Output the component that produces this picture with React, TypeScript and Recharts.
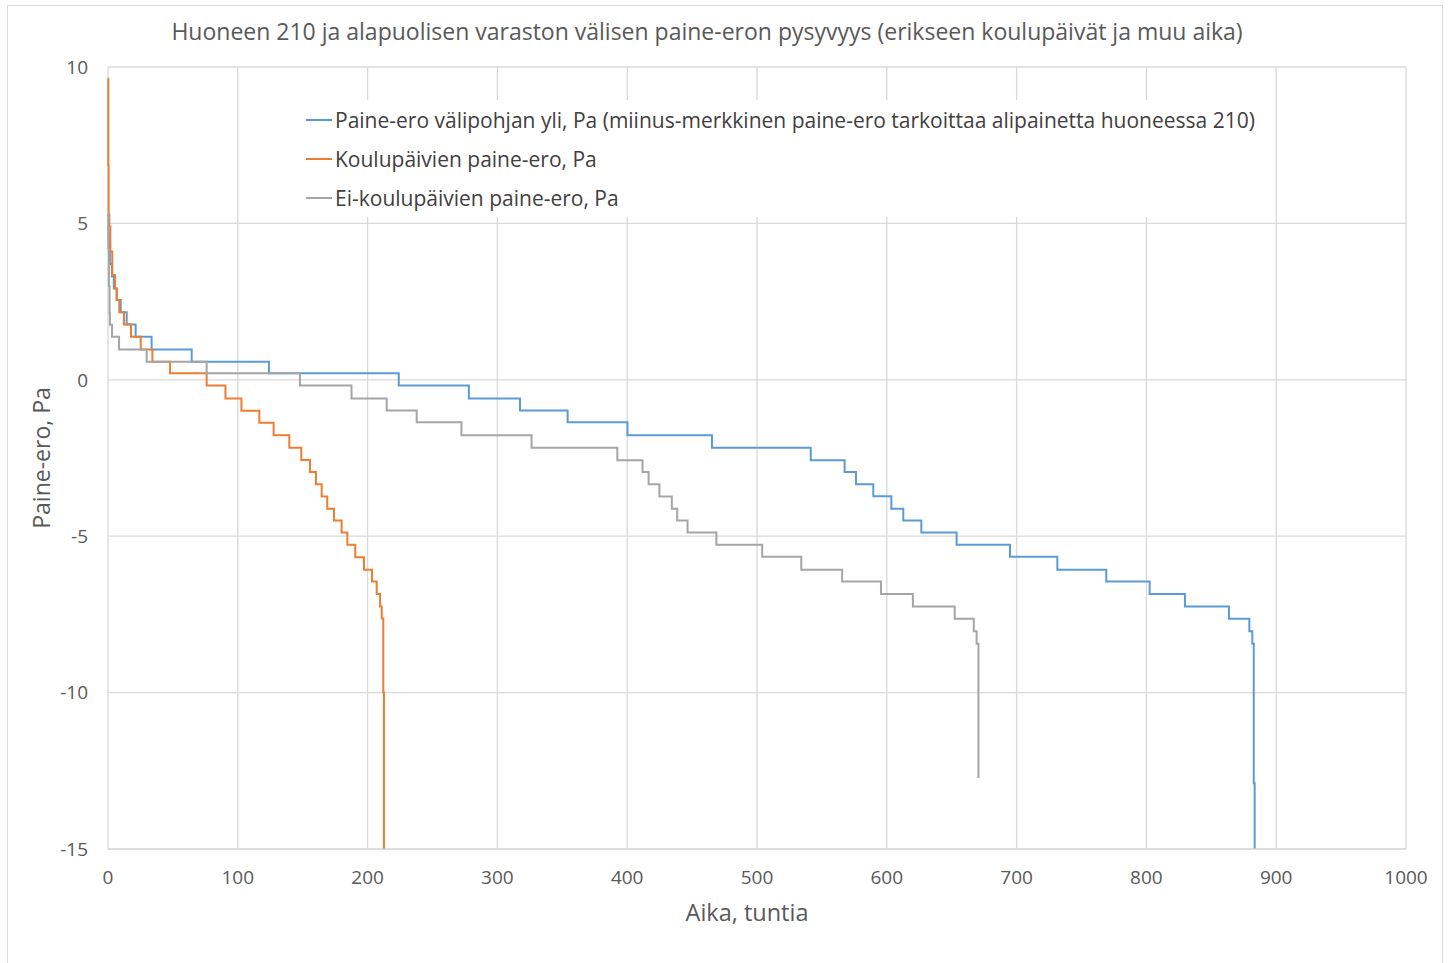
import { LineChart, Line, XAxis, YAxis, CartesianGrid } from 'recharts';

// Duration curves: each entry = hour where a pressure level starts, and the level (Pa)
const BLUE_HOURS = [0, 0.5, 1.5, 3, 4.5, 6.7, 9.8, 14.4, 21.3, 33.6, 64.5, 124, 224, 278, 317.4, 354.1, 400.2, 465.3, 541.4, 567.5, 576.3, 589.6, 603.5, 612.7, 626.6, 653.8, 694.9, 731.4, 769.1, 802.5, 829.7, 863.6, 879.3, 881.6, 882.7, 883.4];
const BLUE_PA = [5.3, 4.5, 3.7, 3.3, 2.92, 2.55, 2.16, 1.77, 1.38, 0.97, 0.58, 0.21, -0.18, -0.6, -0.98, -1.36, -1.77, -2.17, -2.57, -2.95, -3.34, -3.72, -4.12, -4.5, -4.88, -5.27, -5.66, -6.07, -6.45, -6.85, -7.25, -7.64, -8.04, -8.44, -12.9, -15];

const ORANGE_HOURS = [0, 0.2, 0.5, 1.0, 1.8, 3.3, 5.4, 6.7, 8.7, 12.3, 17.7, 25.2, 34.2, 47.8, 76, 90.5, 102.8, 116.6, 127.6, 139.7, 148.9, 155.6, 160.2, 164.6, 168.9, 174.1, 180, 184.4, 190.5, 197.2, 203.4, 207, 209.6, 210.9, 212.1, 212.6];
const ORANGE_PA = [9.63, 6.86, 5.27, 4.9, 4.1, 3.35, 2.92, 2.55, 2.16, 1.77, 1.38, 0.97, 0.58, 0.21, -0.18, -0.6, -0.99, -1.37, -1.77, -2.17, -2.56, -2.95, -3.34, -3.73, -4.12, -4.5, -4.88, -5.27, -5.67, -6.07, -6.45, -6.85, -7.25, -7.63, -10, -15];

const GRAY_HOURS = [0, 0.3, 0.7, 1.2, 1.5, 3.1, 8.5, 29.8, 76, 147.9, 187.6, 214.7, 237.8, 272.3, 326.3, 392.4, 411.8, 416.5, 424.8, 434.4, 438.5, 446.5, 468.7, 504, 534.1, 565.6, 595.5, 620.1, 652.3, 667, 669.2, 670.6];
const GRAY_PA = [5.32, 4.2, 3.0, 2.13, 1.76, 1.38, 0.97, 0.58, 0.21, -0.18, -0.6, -0.98, -1.36, -1.77, -2.17, -2.57, -2.95, -3.34, -3.73, -4.12, -4.5, -4.88, -5.27, -5.66, -6.07, -6.45, -6.85, -7.25, -7.64, -8.04, -8.44, -12.73];

const X_TICKS = [0, 100, 200, 300, 400, 500, 600, 700, 800, 900, 1000];
const Y_TICKS = [-15, -10, -5, 0, 5, 10];

const SERIES_NAMES = [
  'Paine-ero välipohjan yli, Pa (miinus-merkkinen paine-ero tarkoittaa alipainetta huoneessa 210)',
  'Koulupäivien paine-ero, Pa',
  'Ei-koulupäivien paine-ero, Pa',
];
const SERIES_COLORS = ['#5b9bd5', '#ed7d31', '#a5a5a5'];

const TITLE = 'Huoneen 210 ja alapuolisen varaston välisen paine-eron pysyvyys (erikseen koulupäivät ja muu aika)';
const FONT = '"Open Sans", sans-serif';
const TEXT = '#595959';

const toPoints = (hours: number[], pa: number[]) => hours.map((h, i) => ({ h, pa: pa[i] }));

const blueData = toPoints(BLUE_HOURS, BLUE_PA);
const orangeData = toPoints(ORANGE_HOURS, ORANGE_PA);
const grayData = toPoints(GRAY_HOURS, GRAY_PA);

// Legend sits inside the plot with a white box, drawn as an overlay so it doesn't take layout space
const LegendBox = () => (
  <div style={{ position: 'absolute', left: 300, top: 100, background: '#fff', padding: '0 8px 0 6px', fontFamily: FONT }}>
    {SERIES_NAMES.map((name, i) => (
      <div key={name} style={{ display: 'flex', alignItems: 'center', height: 39 }}>
        <div style={{ width: 26, height: 2, background: SERIES_COLORS[i], marginRight: 3 }} />
        <span style={{ fontSize: 21, color: '#404040', whiteSpace: 'nowrap' }}>{name}</span>
      </div>
    ))}
  </div>
);

export default function App() {
  return (
    <div style={{ position: 'absolute', left: 0, top: 0, width: 1448, height: 963, background: '#fff', overflow: 'hidden' }}>
      <div style={{ position: 'absolute', left: 7, top: 5, width: 1434, height: 1000, border: '1px solid #d9d9d9' }} />
      <div style={{ position: 'absolute', left: 0, top: 15, width: 1414, textAlign: 'center', fontFamily: FONT, fontSize: 23, color: TEXT }}>
        {TITLE}
      </div>
      <div style={{ position: 'absolute', left: 41, top: 458, transform: 'translate(-50%, -50%) rotate(-90deg)', fontFamily: FONT, fontSize: 23, color: TEXT, whiteSpace: 'nowrap' }}>
        Paine-ero, Pa
      </div>
      <div style={{ position: 'absolute', left: 0, top: 896, width: 1494, textAlign: 'center', fontFamily: FONT, fontSize: 23.5, color: TEXT }}>
        Aika, tuntia
      </div>
      <div style={{ position: 'absolute', left: 0, top: 0 }}>
        <LineChart width={1448} height={963} margin={{ top: 67, right: 42, left: 48, bottom: 84 }}>
          <CartesianGrid stroke="#d9d9d9" strokeWidth={1.3} />
          <XAxis
            type="number"
            dataKey="h"
            domain={[0, 1000]}
            ticks={X_TICKS}
            height={30}
            axisLine={{ stroke: '#d9d9d9' }}
            tickLine={false}
            tickMargin={16}
            tick={{ fill: TEXT, fontSize: 19, fontFamily: FONT }}
          />
          <YAxis
            type="number"
            domain={[-15, 10]}
            ticks={Y_TICKS}
            allowDataOverflow
            width={60}
            axisLine={false}
            tickLine={false}
            tickMargin={14}
            tick={{ fill: TEXT, fontSize: 19, fontFamily: FONT }}
          />
          <Line data={blueData} dataKey="pa" name={SERIES_NAMES[0]} type="stepAfter" stroke={SERIES_COLORS[0]} strokeWidth={2} dot={false} isAnimationActive={false} />
          <Line data={orangeData} dataKey="pa" name={SERIES_NAMES[1]} type="stepAfter" stroke={SERIES_COLORS[1]} strokeWidth={2} dot={false} isAnimationActive={false} />
          <Line data={grayData} dataKey="pa" name={SERIES_NAMES[2]} type="stepAfter" stroke={SERIES_COLORS[2]} strokeWidth={2} dot={false} isAnimationActive={false} />
        </LineChart>
      </div>
      <LegendBox />
    </div>
  );
}
